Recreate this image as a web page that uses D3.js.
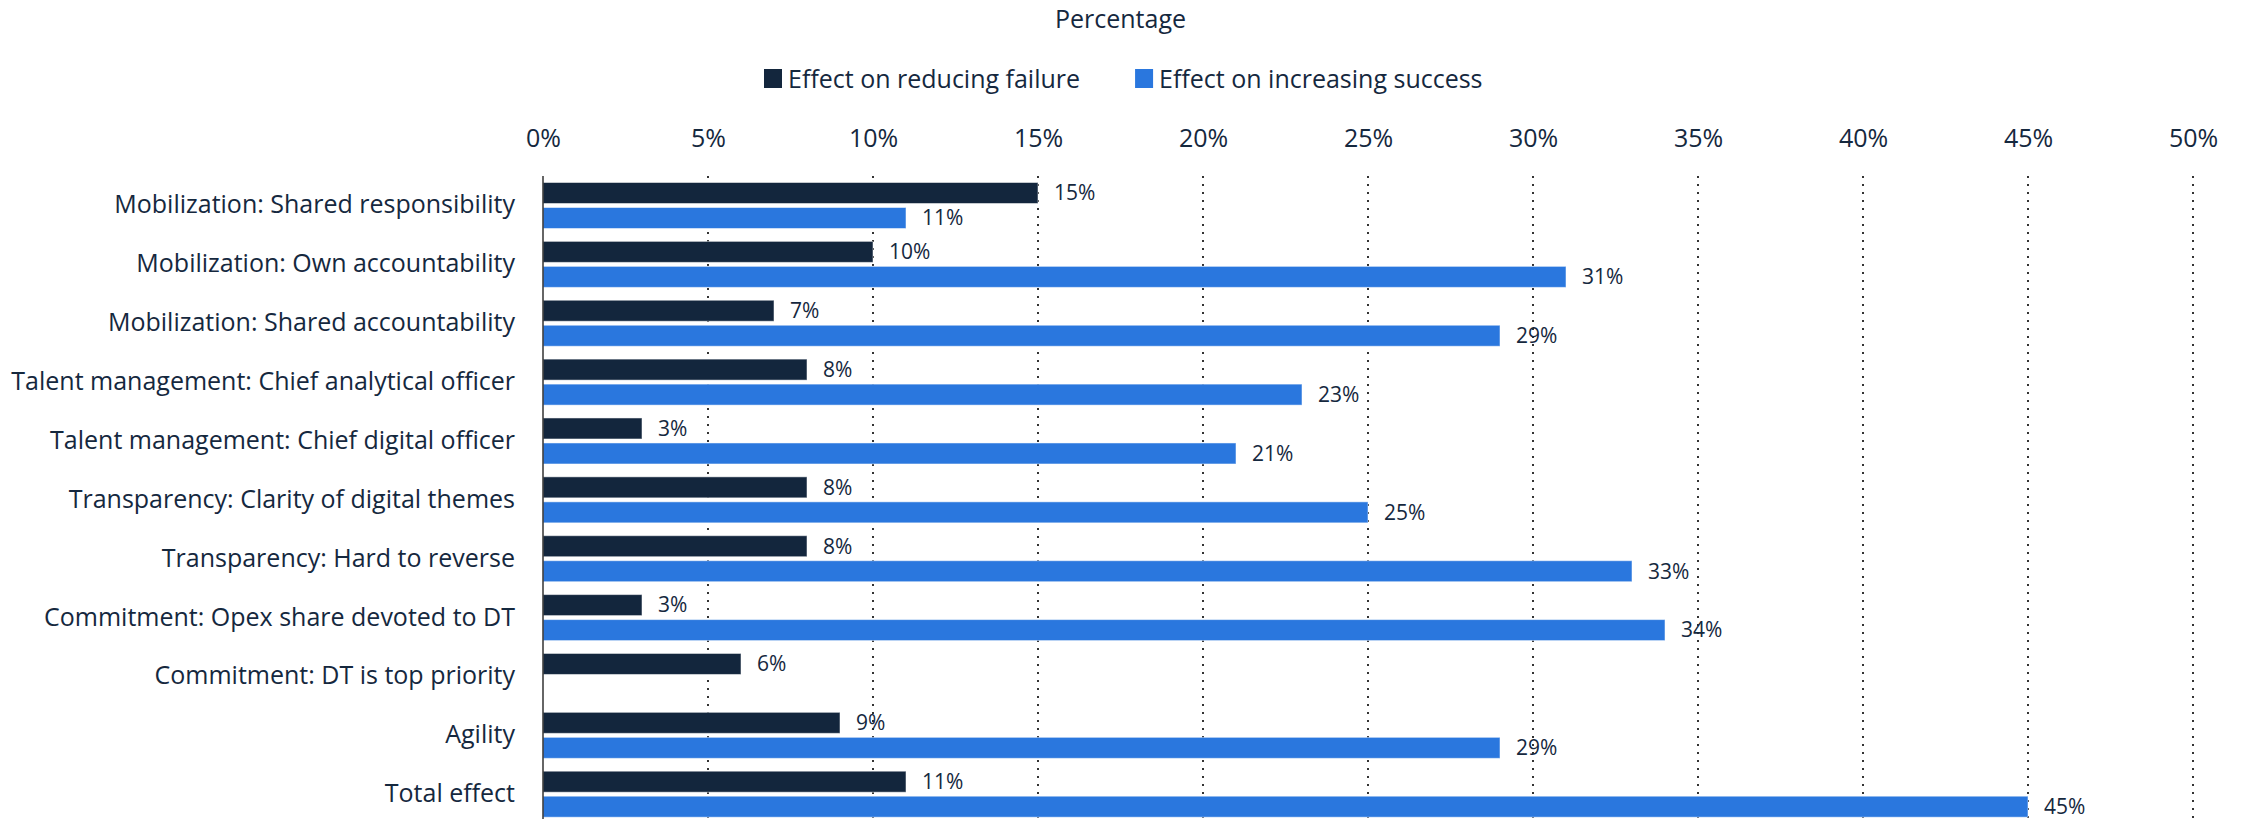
<!DOCTYPE html>
<html>
<head>
<meta charset="utf-8">
<script src="https://cdn.jsdelivr.net/npm/d3@7"></script>
<style>
  body { margin: 0; background: #fff; }
  svg { display: block; font-family: "Open Sans", sans-serif; }
</style>
</head>
<body>
<svg id="svg" width="2249" height="819"></svg>
<script>
var categories = [
  "Mobilization: Shared responsibility",
  "Mobilization: Own accountability",
  "Mobilization: Shared accountability",
  "Talent management: Chief analytical officer",
  "Talent management: Chief digital officer",
  "Transparency: Clarity of digital themes",
  "Transparency: Hard to reverse",
  "Commitment: Opex share devoted to DT",
  "Commitment: DT is top priority",
  "Agility",
  "Total effect"
];
var seriesNames = ["Effect on reducing failure", "Effect on increasing success"];
var reducingFailure = [15, 10, 7, 8, 3, 8, 8, 3, 6, 9, 11];
var increasingSuccess = [11, 31, 29, 23, 21, 25, 33, 34, null, 29, 45];
var xTicks = [0, 5, 10, 15, 20, 25, 30, 35, 40, 45, 50];
var colors = ["#13263d", "#2a77de"];
var textColor = "#15283e";

var svg = d3.select('#svg');
var width = 2249, height = 819;
var margin = { top: 176, left: 543, right: 56 };

var rows = categories.map(function(c, i) {
  return { cat: c, values: [reducingFailure[i], increasingSuccess[i]] };
});

var x = d3.scaleLinear().domain([0, 50]).range([margin.left, width - margin.right]);
var y0 = d3.scaleBand().domain(categories).range([margin.top, margin.top + 11 * 58.87]);
var y1 = d3.scaleBand().domain([0, 1]).range([6.5, 52.5]).paddingInner(0.16);

// title
svg.append('text')
  .attr('x', width / 2 - 4).attr('y', 28)
  .attr('text-anchor', 'middle')
  .style('font-size', '25px').style('fill', textColor)
  .text('Percentage');

// legend
var legend = svg.append('g').attr('transform', 'translate(764, 69)');
var lx = 0;
seriesNames.forEach(function(name, i) {
  var g = legend.append('g').attr('transform', 'translate(' + lx + ',0)');
  g.append('rect').attr('width', 18).attr('height', 19).attr('fill', colors[i]);
  var t = g.append('text').attr('x', 24).attr('y', 19)
    .style('font-size', '25px').style('fill', textColor).text(name);
  lx += 24 + t.node().getComputedTextLength() + 55;
});

// gridlines
svg.append('g').selectAll('line')
  .data(xTicks.filter(function(d) { return d > 0; }))
  .enter().append('line')
  .attr('x1', function(d) { return x(d); }).attr('x2', function(d) { return x(d); })
  .attr('y1', margin.top).attr('y2', height)
  .attr('stroke', '#333').attr('stroke-width', 2)
  .attr('stroke-dasharray', '2,6');

// x axis labels on top
var xAxis = svg.append('g').attr('transform', 'translate(0,147)')
  .call(d3.axisTop(x).tickValues(xTicks).tickSize(0).tickPadding(0)
    .tickFormat(function(d) { return d + '%'; }));
xAxis.select('.domain').remove();
xAxis.selectAll('text').style('font-size', '25px').style('fill', textColor)
  .style('font-family', '"Open Sans", sans-serif');

// bars
var groups = svg.append('g').selectAll('g')
  .data(rows).enter().append('g')
  .attr('transform', function(d) { return 'translate(0,' + y0(d.cat) + ')'; });

var cells = groups.selectAll('g')
  .data(function(d) {
    return d.values.map(function(v, i) { return { v: v, i: i }; })
      .filter(function(e) { return e.v != null; });
  })
  .enter().append('g');

cells.append('rect')
  .attr('x', x(0))
  .attr('y', function(d) { return y1(d.i); })
  .attr('width', function(d) { return x(d.v) - x(0); })
  .attr('height', y1.bandwidth())
  .attr('fill', function(d) { return colors[d.i]; })
  .attr('stroke', '#fff').attr('stroke-opacity', 0.5).attr('stroke-width', 1);

cells.append('text')
  .attr('x', function(d) { return x(d.v) + 16; })
  .attr('y', function(d) { return y1(d.i) + y1.bandwidth() / 2; })
  .attr('dy', '0.35em')
  .style('font-size', '21px').style('fill', textColor)
  .text(function(d) { return d.v + '%'; });

// category axis
var yAxis = svg.append('g').attr('transform', 'translate(' + x(0) + ',0)')
  .call(d3.axisLeft(y0).tickSize(0).tickPadding(28));
yAxis.select('.domain').remove();
yAxis.selectAll('text').style('font-size', '25px').style('fill', textColor)
  .style('font-family', '"Open Sans", sans-serif');

svg.append('line')
  .attr('x1', x(0)).attr('x2', x(0))
  .attr('y1', margin.top).attr('y2', height)
  .attr('stroke', '#333').attr('stroke-width', 1.5);
</script>
</body>
</html>
